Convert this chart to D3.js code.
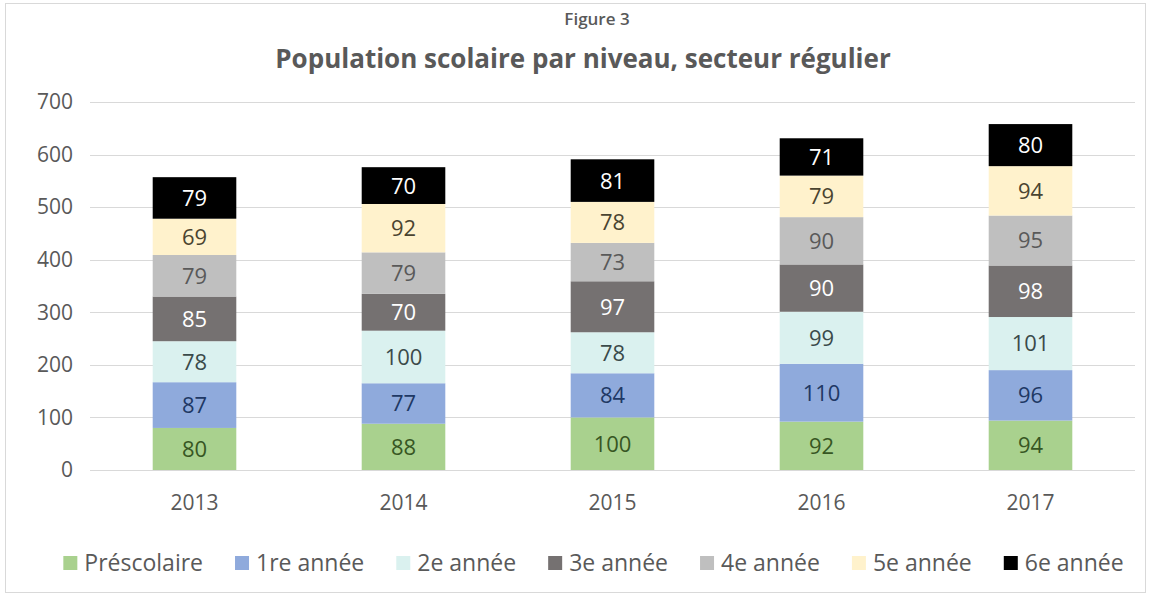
<!DOCTYPE html>
<html>
<head>
<meta charset="utf-8">
<script src="https://cdn.jsdelivr.net/npm/d3@7"></script>
<style>
  body { margin: 0; background: #fff; }
  text { font-family: "Open Sans", "Noto Sans", sans-serif; }
</style>
</head>
<body>
<script>
const years = ['2013', '2014', '2015', '2016', '2017']
const levels = ['Préscolaire', '1re année', '2e année', '3e année', '4e année', '5e année', '6e année']
const prescolaire = [80, 88, 100, 92, 94]
const annee1 = [87, 77, 84, 110, 96]
const annee2 = [78, 100, 78, 99, 101]
const annee3 = [85, 70, 97, 90, 98]
const annee4 = [79, 79, 73, 90, 95]
const annee5 = [69, 92, 78, 79, 94]
const annee6 = [79, 70, 81, 71, 80]
const yTicks = [0, 100, 200, 300, 400, 500, 600, 700]

const seriesValues = [prescolaire, annee1, annee2, annee3, annee4, annee5, annee6]
const fills = ['#a9d18e', '#8faadc', '#daf1ef', '#757171', '#bfbfbf', '#fff2cc', '#000000']
const labelColors = ['#375623', '#203864', '#3a4a4a', '#ffffff', '#595959', '#4a4430', '#ffffff']

var width = 1151, height = 597
var margin = { top: 102, right: 16, bottom: 127, left: 90 }

var svg = d3.select('body')
    .append('svg')
    .attr('width', width)
    .attr('height', height)

// chart frame
svg.append('rect')
    .attr('x', 5.5).attr('y', 3.5)
    .attr('width', width - 11).attr('height', height - 8)
    .attr('fill', '#fff')
    .attr('stroke', '#d9d9d9')

svg.append('text')
    .attr('x', 597).attr('y', 25)
    .attr('text-anchor', 'middle')
    .style('font-size', '17px')
    .style('font-weight', 600)
    .style('fill', '#595959')
    .text('Figure 3')

svg.append('text')
    .attr('x', 583).attr('y', 68)
    .attr('text-anchor', 'middle')
    .style('font-size', '26px')
    .style('font-weight', 700)
    .style('fill', '#595959')
    .text('Population scolaire par niveau, secteur régulier')

var x = d3.scaleBand()
    .domain(years)
    .range([margin.left, width - margin.right])
    .padding(0)

var y = d3.scaleLinear()
    .domain([0, 700])
    .range([height - margin.bottom, margin.top])

// gridlines
svg.append('g')
    .selectAll('line')
    .data(yTicks)
    .enter()
    .append('line')
    .attr('x1', margin.left).attr('x2', width - margin.right)
    .attr('y1', d => Math.round(y(d)) + 0.5).attr('y2', d => Math.round(y(d)) + 0.5)
    .attr('stroke', '#d9d9d9')
    .attr('stroke-width', 1.2)

// y axis labels
var yAxis = svg.append('g')
    .attr('transform', 'translate(' + (margin.left - 17) + ',0)')
    .call(d3.axisLeft(y).tickValues(yTicks).tickSize(0).tickPadding(0))
yAxis.select('.domain').remove()
yAxis.selectAll('text')
    .style('font-size', '21px')
    .style('fill', '#595959')
    .style('font-family', '"Open Sans", sans-serif')

// x axis labels
var xAxis = svg.append('g')
    .attr('transform', 'translate(0,' + (height - margin.bottom) + ')')
    .call(d3.axisBottom(x).tickSize(0).tickPadding(25))
xAxis.select('.domain').remove()
xAxis.selectAll('text')
    .style('font-size', '21px')
    .style('fill', '#595959')
    .style('font-family', '"Open Sans", sans-serif')

// stacked data
var rows = years.map(function (yr, i) {
    var row = { year: yr }
    levels.forEach(function (lv, j) { row[lv] = seriesValues[j][i] })
    return row
})
var stacked = d3.stack().keys(levels)(rows)

var barWidth = x.bandwidth() * 0.4

var layers = svg.selectAll('.layer')
    .data(stacked)
    .enter()
    .append('g')
    .attr('class', 'layer')

layers.selectAll('rect')
    .data(function (d, j) { return d.map(p => ({ p: p, j: j })) })
    .enter()
    .append('rect')
    .attr('x', d => x(d.p.data.year) + (x.bandwidth() - barWidth) / 2)
    .attr('y', d => y(d.p[1]))
    .attr('width', barWidth)
    .attr('height', d => y(d.p[0]) - y(d.p[1]))
    .attr('fill', d => fills[d.j])

layers.selectAll('text')
    .data(function (d, j) { return d.map(p => ({ p: p, j: j })) })
    .enter()
    .append('text')
    .attr('x', d => x(d.p.data.year) + x.bandwidth() / 2)
    .attr('y', d => (y(d.p[0]) + y(d.p[1])) / 2)
    .attr('dy', '0.36em')
    .attr('text-anchor', 'middle')
    .style('font-size', '22px')
    .style('fill', d => labelColors[d.j])
    .text(d => d.p[1] - d.p[0])

// legend
var legend = svg.append('g').attr('transform', 'translate(0,' + 563 + ')')
var items = legend.selectAll('g')
    .data(levels)
    .enter()
    .append('g')
items.append('rect')
    .attr('width', 14).attr('height', 14)
    .attr('y', -7)
    .attr('fill', (d, i) => fills[i])
items.append('text')
    .attr('x', 21)
    .attr('dy', '0.36em')
    .style('font-size', '23px')
    .style('fill', '#595959')
    .text(d => d)

var widths = []
items.each(function () { widths.push(this.getBBox().width) })
var gap = 32
var total = d3.sum(widths) + gap * (widths.length - 1)
var cursor = (width - total) / 2 + 18
items.attr('transform', function (d, i) {
    var t = 'translate(' + cursor + ',0)'
    cursor += widths[i] + gap
    return t
})
</script>
</body>
</html>
